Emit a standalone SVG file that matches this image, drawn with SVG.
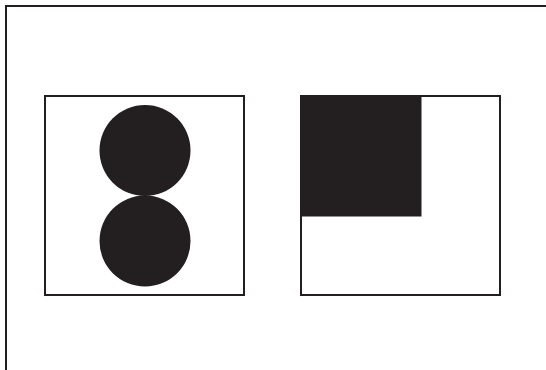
<svg xmlns="http://www.w3.org/2000/svg" width="546" height="370" viewBox="0 0 546 370">
<style>
.box{fill:none;stroke:#231f20;stroke-width:2}
.fill{fill:#231f20}
</style>
<rect width="546" height="370" fill="#fff"/>
<rect class="box" x="6" y="6" width="560" height="380"/>
<g id="left-panel">
<rect class="box" x="45" y="96" width="199" height="199"/>
<circle class="fill" cx="145" cy="150.5" r="45.5"/>
<circle class="fill" cx="145" cy="241" r="45.5"/>
</g>
<g id="right-panel">
<rect class="box" x="301" y="96" width="199" height="199"/>
<rect class="fill" x="300" y="95" width="121.5" height="121.5"/>
</g>
</svg>
